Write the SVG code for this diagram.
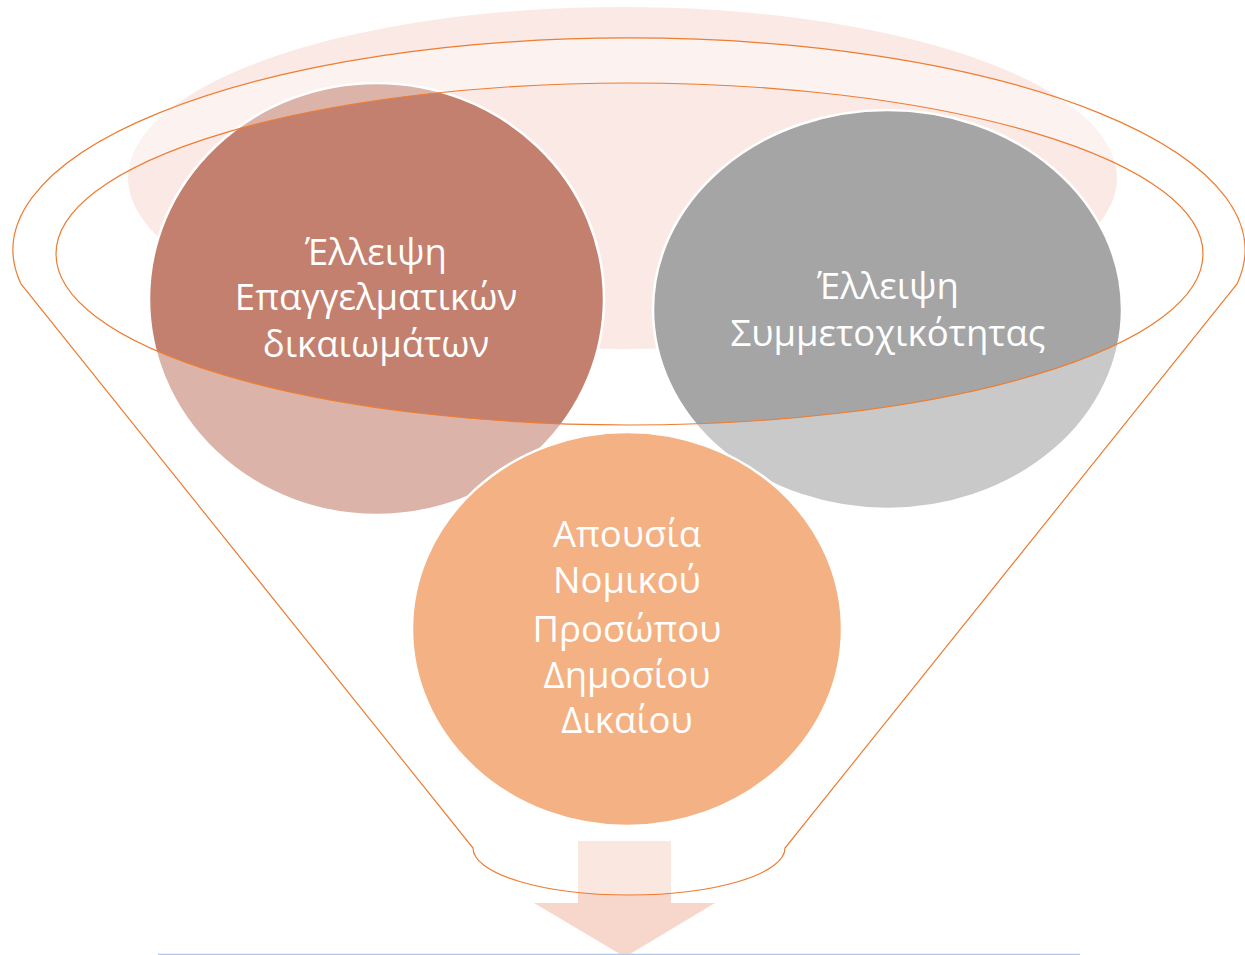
<svg xmlns="http://www.w3.org/2000/svg" width="1245" height="955" viewBox="0 0 1245 955">
<style>
.lbl{font-family:"Open Sans","Noto Sans","DejaVu Sans",sans-serif;fill:#FFFFFF;text-anchor:middle;font-size:36.5px}
.circ{stroke:#FFFFFF;stroke-width:2.5}
.fl{stroke:#ED7D31;stroke-width:1.2}
</style>
<rect width="1245" height="955" fill="#FFFFFF"/>
<g id="funnel-back">
<ellipse cx="622.5" cy="178" rx="494.5" ry="171" fill="#FBE9E5"/>
</g>
<g id="connectors">
<path d="M578,841 H671 V903 H715 L625,957 L534,903 H578 Z" fill="#F7D7CC"/>
<line x1="158" y1="954.5" x2="1080" y2="954.5" stroke="#B4C7E7" stroke-width="1.5"/>
</g>
<g id="node-1">
<ellipse class="circ" cx="376.5" cy="299" rx="227.5" ry="216" fill="#C3806F"/>
</g>
<g id="node-2">
<ellipse class="circ" cx="887.5" cy="309.5" rx="234.5" ry="199.5" fill="#A5A5A5"/>
</g>
<g id="funnel">
<path class="fl" fill="#FFFFFF" fill-opacity="0.4" fill-rule="evenodd" d="M21,284 A616,212 0 1 1 1237,284 L785,848 A156,47 0 0 1 473,848 Z M56,254 A573.5,171 0 1 0 1203,254 A573.5,171 0 1 0 56,254 Z"/>
</g>
<g id="node-3">
<ellipse class="circ" cx="627" cy="629" rx="215" ry="197" fill="#F4B183"/>
</g>
<g id="labels">
<text class="lbl" x="376" y="265">Έλλειψη</text>
<text class="lbl" x="376" y="310">Επαγγελματικών</text>
<text class="lbl" x="376" y="357">δικαιωμάτων</text>
<text class="lbl" x="888" y="299">Έλλειψη</text>
<text class="lbl" x="888" y="346">Συμμετοχικότητας</text>
<text class="lbl" x="627" y="547">Απουσία</text>
<text class="lbl" x="627" y="593">Νομικού</text>
<text class="lbl" x="627" y="642">Προσώπου</text>
<text class="lbl" x="627" y="688">Δημοσίου</text>
<text class="lbl" x="627" y="733">Δικαίου</text>
</g>
</svg>
